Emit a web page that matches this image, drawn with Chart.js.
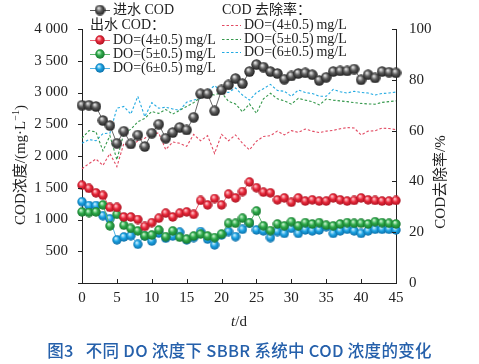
<!DOCTYPE html>
<html>
<head>
<meta charset="utf-8">
<script src="https://cdn.jsdelivr.net/npm/chart.js@4"></script>
<style>
  html, body { margin: 0; padding: 0; background: #fff; }
  #wrap { position: relative; width: 479px; height: 364px; }
  #wrap canvas { position: absolute; left: 0; top: 0; }
  #caption {
    position: absolute; left: 0; top: 340px; width: 479px; text-align: center;
    font-family: "Noto Sans CJK SC", sans-serif; font-size: 16.5px; line-height: 20px;
    font-weight: 500; color: #2560ab; letter-spacing: 0.3px;
  }
</style>
</head>
<body>
<div id="wrap">
  <canvas id="chart" width="479" height="364"></canvas>
  <div id="caption">图3&nbsp;&nbsp;&nbsp;不同 DO 浓度下 SBBR 系统中 COD 浓度的变化</div>
</div>
<script>
// days (t/d)
const days = [0,1,2,3,4,5,6,7,8,9,10,11,12,13,14,15,16,17,18,19,20,21,22,23,24,25,26,27,28,29,30,31,32,33,34,35,36,37,38,39,40,41,42,43,44,45];

// 进水 COD, mg/L
const codIn = [2800,2800,2780,2560,2480,2200,2390,2190,2330,2150,2360,2500,2280,2370,2450,2410,2610,2980,2980,2710,3040,3120,3220,3140,3330,3440,3400,3330,3300,3210,3260,3300,3310,3280,3190,3240,3330,3340,3340,3370,3200,3280,3230,3330,3320,3310];

// 出水 COD, mg/L
const codOut4 = [1540,1490,1420,1380,1190,1190,1040,1040,1000,890,950,1020,1100,1040,1100,1120,1080,1300,1230,1330,1230,1400,1340,1440,1590,1500,1430,1420,1310,1340,1270,1340,1290,1310,1290,1290,1340,1310,1290,1300,1340,1310,1300,1290,1290,1300];
const codOut5 = [1120,1110,1120,1230,900,1080,910,860,820,745,755,835,730,820,720,690,740,770,740,715,770,940,940,1020,950,1134,900,825,930,900,965,900,950,930,950,910,900,930,950,940,940,930,965,950,940,930];
const codOut6 = [1280,1220,1220,1060,1010,680,725,745,610,740,660,785,705,740,800,680,715,810,690,600,755,810,730,845,940,835,820,715,810,780,860,780,835,820,835,885,780,820,845,820,780,820,845,845,845,835];

// COD 去除率, %
const rem4 = [45,47,48.8,46.3,51,45.8,55,53.5,56,57,59,59,52.5,55.5,55,53.8,58.5,56,58,51,58.5,56,58.3,55,52.4,55.8,57.7,58,59.8,58.3,60,59.3,60.6,59.8,59.2,59.8,60.1,60.7,61.2,61,58.3,59.8,59.9,61,60.8,60.4];
const rem5 = [57,60,59.5,52,58,48.5,59,60.5,63.5,64.8,67.5,66.8,68.3,66.5,68,69.5,71,73,74.5,74,75,71.5,70.5,67.4,70.5,66.8,72.5,74.7,72.5,71.7,70.4,72.7,72,71.4,70.1,72.4,72,71.7,71.4,71,70.7,70.5,70.4,71.1,71.4,71.7];
const rem6 = [55,56.5,56,58.8,59,68.8,69.5,66.5,73.5,65.5,71,68.8,69.2,68.5,68,71.2,72,72.7,75.5,77.7,75.5,75,76.8,74,72,75,76.5,78.2,75.8,75.5,73.5,76,75,74.6,73.5,73.5,76.2,75.3,74.8,75.5,75,74.8,74,74.6,74.8,75.2];

const doLabels = ['DO=(4±0.5)\u2009mg/L', 'DO=(5±0.5)\u2009mg/L', 'DO=(6±0.5)\u2009mg/L'];

const SERIF = '"Liberation Serif", "Noto Sans CJK SC", serif';

// small shaded balls for the markers
function ball(light, mid, dark, d) {
  const c = document.createElement('canvas');
  c.width = c.height = d;
  const g = c.getContext('2d');
  const r = d / 2;
  const grad = g.createRadialGradient(r * 0.75, r * 0.65, r * 0.1, r, r, r);
  grad.addColorStop(0, light);
  grad.addColorStop(0.45, mid);
  grad.addColorStop(1, dark);
  g.fillStyle = grad;
  g.beginPath();
  g.arc(r, r, r - 0.3, 0, Math.PI * 2);
  g.fill();
  return c;
}
const ballK = ball('#e0e0e0', '#5a5a5a', '#1c1c1c', 11);
const ballR = ball('#ffc0c6', '#e8283a', '#a5101e', 10);
const ballG = ball('#c4f2cc', '#2eaa4a', '#15702b', 10);
const ballB = ball('#c2ecff', '#1ca2e2', '#0a6aa2', 10);

const toXY = arr => arr.map((v, i) => ({ x: days[i], y: v }));

function solid(data, lineColor, img) {
  return {
    data: toXY(data), yAxisID: 'y', borderColor: lineColor, borderWidth: 1,
    pointStyle: img, pointRadius: 5, tension: 0, clip: false
  };
}
function dashed(data, color) {
  return {
    data: toXY(data), yAxisID: 'y1', borderColor: color, borderWidth: 1.1,
    borderDash: [2.5, 2], pointRadius: 0, tension: 0, clip: false
  };
}

function richText(ctx, parts, cx, cy, rot) {
  ctx.save();
  ctx.translate(cx, cy);
  ctx.rotate(rot);
  let total = 0;
  parts.forEach(p => { ctx.font = p.font; p.w = ctx.measureText(p.text).width; total += p.w; });
  let x = -total / 2;
  ctx.textBaseline = 'middle';
  ctx.textAlign = 'left';
  ctx.fillStyle = '#222';
  parts.forEach(p => { ctx.font = p.font; ctx.fillText(p.text, x, p.dy || 0); x += p.w; });
  ctx.restore();
}

const extras = {
  id: 'extras',
  afterDraw(chart) {
    const { ctx, chartArea: a, scales } = chart;
    ctx.save();
    ctx.strokeStyle = '#222';
    ctx.lineWidth = 1;
    ctx.beginPath();
    scales.x.ticks.forEach(t => {
      const px = Math.round(scales.x.getPixelForValue(t.value)) + 0.5;
      ctx.moveTo(px, a.bottom); ctx.lineTo(px, a.bottom - 4);
    });
    scales.y.ticks.forEach(t => {
      const py = Math.round(scales.y.getPixelForValue(t.value)) + 0.5;
      ctx.moveTo(a.left - 4, py); ctx.lineTo(a.left, py);
    });
    scales.y1.ticks.forEach(t => {
      const py = Math.round(scales.y1.getPixelForValue(t.value)) + 0.5;
      ctx.moveTo(a.right - 4, py); ctx.lineTo(a.right, py);
    });
    ctx.stroke();

    // axis titles
    const f15 = '15px ' + SERIF;
    richText(ctx, [
      { text: 'COD浓度/(mg·L', font: f15 },
      { text: '−1', font: '10px ' + SERIF, dy: -5 },
      { text: ')', font: f15 }
    ], 21, 165, -Math.PI / 2);
    richText(ctx, [{ text: 'COD去除率/%', font: f15 }], 441, 182, -Math.PI / 2);
    richText(ctx, [
      { text: 't', font: 'italic 15px ' + SERIF },
      { text: '/d', font: f15 }
    ], 239, 322, 0);

    // legend
    ctx.font = '14px ' + SERIF;
    ctx.textBaseline = 'middle';
    ctx.textAlign = 'left';
    ctx.fillStyle = '#222';
    const solidRow = (y, color, img, text) => {
      ctx.strokeStyle = color; ctx.setLineDash([]);
      ctx.beginPath(); ctx.moveTo(90, y + 0.5); ctx.lineTo(110, y + 0.5); ctx.stroke();
      ctx.drawImage(img, 100 - img.width / 2, y - img.height / 2);
      ctx.fillText(text, 113, y);
    };
    solidRow(10, '#555', ballK, '进水 COD');
    ctx.fillText('出水 COD：', 90, 25);
    solidRow(40, '#e86070', ballR, doLabels[0]);
    solidRow(54, '#5cb46c', ballG, doLabels[1]);
    solidRow(68, '#4cb2e4', ballB, doLabels[2]);

    ctx.fillText('COD 去除率：', 222, 10);
    const dashRow = (y, color, text) => {
      ctx.strokeStyle = color; ctx.setLineDash([2.5, 2]);
      ctx.beginPath(); ctx.moveTo(222, y + 0.5); ctx.lineTo(241, y + 0.5); ctx.stroke();
      ctx.fillText(text, 244, y);
    };
    dashRow(25, '#e24a62', doLabels[0]);
    dashRow(39, '#35984c', doLabels[1]);
    dashRow(52, '#22aae2', doLabels[2]);
    ctx.restore();
  }
};

const tickFont = { family: SERIF, size: 15 };

new Chart(document.getElementById('chart'), {
  type: 'line',
  data: {
    datasets: [
      solid(codIn, '#666', ballK),
      solid(codOut4, '#e86070', ballR),
      solid(codOut5, '#5cb46c', ballG),
      solid(codOut6, '#4cb2e4', ballB),
      dashed(rem4, '#e24a62'),
      dashed(rem5, '#35984c'),
      dashed(rem6, '#22aae2')
    ]
  },
  options: {
    responsive: false,
    animation: false,
    events: [],
    layout: { padding: { top: 29, left: 0, right: 0, bottom: 0 } },
    plugins: { legend: { display: false }, tooltip: { enabled: false } },
    scales: {
      x: {
        type: 'linear', min: 0, max: 45,
        ticks: { stepSize: 5, font: tickFont, color: '#222', padding: -2, maxRotation: 0 },
        grid: { display: false },
        border: { display: true, color: '#222', width: 1 },
        afterFit: s => { s.height = 81; }
      },
      y: {
        position: 'left', min: 0, max: 4000,
        ticks: {
          stepSize: 500, font: tickFont, color: '#222', padding: 6,
          callback: v => v === 0 ? '' : (v >= 1000 ? Math.floor(v / 1000) + ' ' + String(v % 1000).padStart(3, '0') : String(v))
        },
        grid: { display: false },
        border: { display: true, color: '#222', width: 1 },
        afterFit: s => { s.width = 82; }
      },
      y1: {
        position: 'right', min: 0, max: 100,
        ticks: { stepSize: 20, font: tickFont, color: '#222', padding: 5 },
        grid: { display: false },
        border: { display: true, color: '#222', width: 1 },
        afterFit: s => { s.width = 83; }
      }
    }
  },
  plugins: [extras]
});
</script>
</body>
</html>
